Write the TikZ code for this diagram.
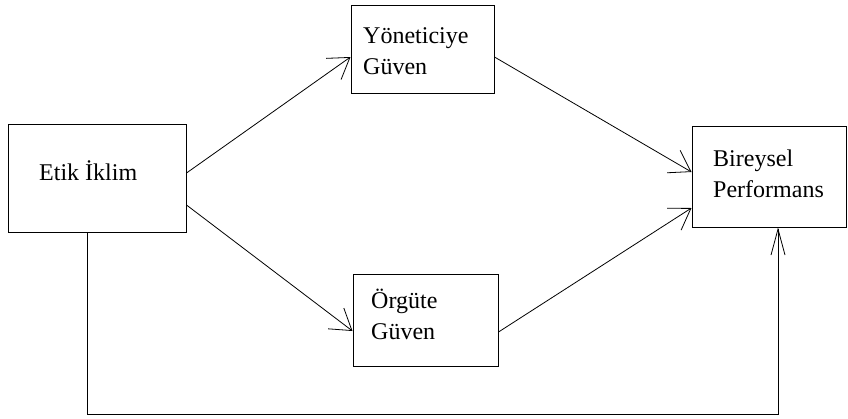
\documentclass[tikz,border=0pt]{standalone}
\usepackage{fontspec}
\setmainfont{Liberation Serif}
\usetikzlibrary{arrows.meta}
\begin{document}
\begin{tikzpicture}[x=1pt,y=-1pt,
  box/.style={draw, line width=1pt, rectangle, inner sep=0pt},
  lbl/.style={font=\fontsize{24}{31}\selectfont, align=left, inner sep=0pt, anchor=base west},
  arr/.style={line width=0.8pt, -{Straight Barb[length=20pt,width=26pt,line width=0.8pt]}},
  uparr/.style={line width=0.8pt, -{Straight Barb[length=26pt,width=14pt,line width=0.8pt]}}]
\useasboundingbox (0,0) rectangle (848,418);
\node[box, minimum width=178pt, minimum height=108pt] (etik) at (97,178) {};
\node[box, minimum width=143pt, minimum height=88pt] (yon) at (422.5,49) {};
\node[box, minimum width=145pt, minimum height=92pt] (org) at (425.5,320) {};
\node[box, minimum width=154pt, minimum height=101pt] (bir) at (769,176.5) {};
\node[lbl] (etikt) at (39,180) {Etik İklim};
\node[lbl] (yont) at (363,74) {Yöneticiye\\Güven};
\node[lbl] (orgt) at (371,339) {Örgüte\\Güven};
\node[lbl] (birt) at (713,197) {Bireysel\\Performans};
\draw[arr] ([yshift=5pt]etik.east) -- ([yshift=-8pt]yon.west);
\draw[arr] ([yshift=-27pt]etik.east) -- ([yshift=-11pt]org.west);
\draw[arr] ([yshift=-8pt]yon.east) -- ([yshift=4.5pt]bir.west);
\draw[arr] ([yshift=-12pt]org.east) -- ([yshift=-31.5pt]bir.west);
\draw[uparr] ([xshift=-10pt]etik.south) -- ++(0pt,-182pt) -| ([xshift=9pt]bir.south);
\end{tikzpicture}
\end{document}
